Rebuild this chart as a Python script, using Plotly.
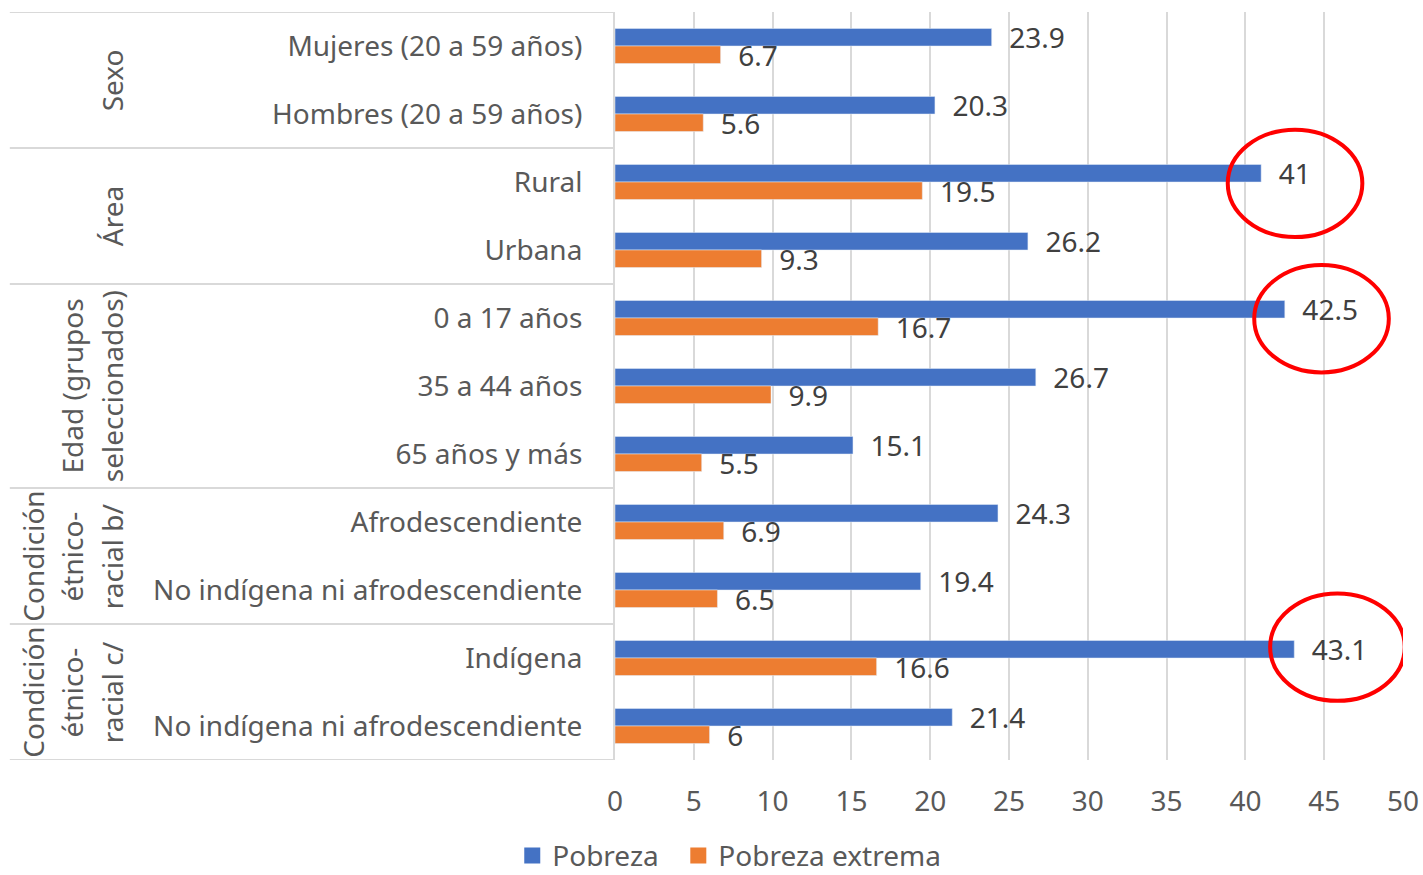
import plotly.graph_objs as go

# categories (top to bottom) and their groups
labels = ['Mujeres (20 a 59 años)', 'Hombres (20 a 59 años)',
          'Rural', 'Urbana',
          '0 a 17 años', '35 a 44 años', '65 años y más',
          'Afrodescendiente', 'No indígena ni afrodescendiente',
          'Indígena', 'No indígena ni afrodescendiente']
groups = [['Sexo'], ['Área'], ['Edad (grupos', 'seleccionados)'],
          ['Condición', 'étnico-', 'racial b/'], ['Condición', 'étnico-', 'racial c/']]
group_sizes = [2, 2, 3, 2, 2]

pobreza = [23.9, 20.3, 41, 26.2, 42.5, 26.7, 15.1, 24.3, 19.4, 43.1, 21.4]
pobreza_extrema = [6.7, 5.6, 19.5, 9.3, 16.7, 9.9, 5.5, 6.9, 6.5, 16.6, 6]

# categories circled in red (hand drawn in the original, so each sits a bit differently)
highlighted = ['Rural', '0 a 17 años', 'Indígena']
circle_dx = [2.15, 2.33, 2.74]
circle_dy = [0.02, 0.01, -0.16]

font_family = 'Noto Sans, Open Sans, sans-serif'
grey_text = '#595959'
line_grey = '#d9d9d9'
blue = '#4472C4'
orange = '#ED7D31'

ypos = list(range(len(labels)))

fig = go.Figure()
fig.add_trace(go.Bar(y=ypos, x=pobreza, orientation='h', name='Pobreza',
                     marker_color=blue, showlegend=False,
                     texttemplate='\u00a0\u00a0%{x}', textposition='outside',
                     constraintext='none',
                     textfont=dict(size=28, color='#404040', family=font_family),
                     cliponaxis=False))
fig.add_trace(go.Bar(y=ypos, x=pobreza_extrema, orientation='h', name='Pobreza extrema',
                     marker_color=orange, showlegend=False,
                     texttemplate='\u00a0\u00a0%{x}', textposition='outside',
                     constraintext='none',
                     textfont=dict(size=28, color='#404040', family=font_family),
                     cliponaxis=False))
# legend entries with bigger square keys
for name, col in [('Pobreza\u00a0\u00a0', blue), ('Pobreza extrema', orange)]:
    fig.add_trace(go.Scatter(x=[None], y=[None], mode='markers', name=name,
                             marker=dict(symbol='square', size=17, color=col)))

# table lines to the left of the plot and group labels
left_edge = -0.768
shapes = []
annotations = []
start = 0
bounds = [-0.5]
for g, n in zip(groups, group_sizes):
    end = start + n
    bounds.append(end - 0.5)
    mid = (start + end - 1) / 2
    nl = len(g)
    for i, line in enumerate(g):
        # lines stack left to right, last line closest to the labels
        xp = -0.638 - (nl - 1 - i) * 0.0505
        annotations.append(dict(text=line, x=xp, y=mid, xref='paper', yref='y',
                                textangle=-90, showarrow=False, xanchor='center', yanchor='middle',
                                font=dict(size=28, color=grey_text, family=font_family)))
    start = end

for b in bounds:
    shapes.append(dict(type='line', xref='paper', yref='y', x0=left_edge, x1=0, y0=b, y1=b,
                       line=dict(color=line_grey, width=2)))

# red ellipses around selected labels
for lab, dx, dy in zip(highlighted, circle_dx, circle_dy):
    i = labels.index(lab)
    cx = pobreza[i] + dx
    cy = i + dy
    shapes.append(dict(type='circle', xref='x', yref='y',
                       x0=cx - 4.27, x1=cx + 4.27, y0=cy - 0.79, y1=cy + 0.79,
                       line=dict(color='#FF0000', width=4)))

fig.update_layout(
    width=1423, height=875,
    paper_bgcolor='white', plot_bgcolor='white',
    margin=dict(l=615, r=20, t=12, b=115, autoexpand=False),
    barmode='group', bargap=0.485, bargroupgap=0,
    showlegend=True,
    legend=dict(orientation='h', x=0.145, xanchor='center',
                yref='container', y=0.022, yanchor='middle',
                font=dict(size=28, color=grey_text, family=font_family),
                traceorder='normal', itemwidth=30),
    shapes=shapes,
    annotations=annotations,
    font=dict(family=font_family, color=grey_text),
)

fig.update_xaxes(range=[0, 50], dtick=5, showgrid=True, gridcolor=line_grey, gridwidth=2,
                 zeroline=False, showline=False, automargin=False,
                 tickfont=dict(size=28, color=grey_text, family=font_family),
                 ticklabelstandoff=22)
fig.update_yaxes(tickvals=ypos, ticktext=labels, range=[10.5, -0.5],
                 showgrid=False, zeroline=False, automargin=False,
                 showline=True, linecolor=line_grey, linewidth=2,
                 tickfont=dict(size=28, color=grey_text, family=font_family),
                 ticklabelstandoff=25)

# drop the default body margin so the figure fills the window exactly
fig.write_html("out.html", config={'displayModeBar': False},
               post_script="document.body.style.margin='0';document.body.style.overflow='hidden';")
